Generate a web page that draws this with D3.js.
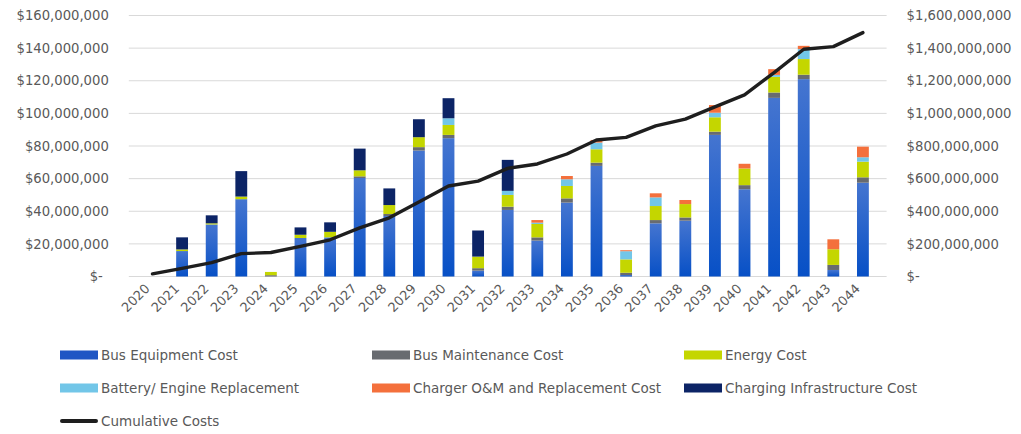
<!DOCTYPE html>
<html>
<head>
<meta charset="utf-8">
<script src="https://cdn.jsdelivr.net/npm/d3@7"></script>
<style>
  html, body { margin: 0; padding: 0; background: #fff; }
  svg { display: block; }
  text { font-family: "DejaVu Sans", sans-serif; fill: #595959; }
</style>
</head>
<body>
<svg id="chart" width="1021" height="434"></svg>
<script>
// Annual fleet costs by category, in millions of dollars
const years = ["2020","2021","2022","2023","2024","2025","2026","2027","2028","2029","2030","2031",
               "2032","2033","2034","2035","2036","2037","2038","2039","2040","2041","2042","2043","2044"];
const busEquipment   = [0, 15.6, 31.9, 47.4, 0, 23.6, 24.0, 60.4, 37.1, 77.2, 84.8, 3.6,
                        40.8, 22.0, 45.3, 67.8, 0.9, 32.6, 34.2, 86.8, 53.5, 109.5, 121.0, 4.0, 57.5];
const busMaintenance = [0, 0, 0, 0, 0.8, 0, 0, 1.0, 1.2, 2.1, 2.0, 1.5,
                        2.0, 2.0, 2.6, 2.0, 1.4, 2.0, 2.0, 2.0, 2.5, 3.3, 2.7, 3.1, 3.3];
const energy         = [0, 1.0, 0.7, 1.6, 2.0, 2.0, 3.4, 3.7, 5.5, 6.1, 6.1, 7.1,
                        7.2, 8.2, 7.6, 8.2, 8.2, 8.6, 8.2, 8.8, 10.2, 9.6, 9.6, 9.6, 9.6];
const batteryEngine  = [0, 0, 0, 0, 0, 0, 0, 0, 0, 0, 4.1, 0,
                        2.5, 0.8, 4.1, 4.1, 5.0, 5.3, 0, 2.8, 0, 1.2, 6.1, 0, 2.7];
const chargerOM      = [0, 0, 0, 0, 0, 0, 0, 0, 0, 0, 0, 0,
                        0, 1.6, 2.0, 1.6, 0.6, 2.5, 2.5, 4.7, 2.9, 3.5, 2.0, 6.1, 6.5];
const chargingInfra  = [0, 7.4, 4.9, 15.6, 0, 4.5, 5.8, 13.3, 10.2, 11.0, 12.3, 16.0,
                        19.0, 0, 0, 0, 0, 0, 0, 0, 0, 0, 0, 0, 0];
// Running total, in millions of dollars (right axis)
const cumulative     = [16, 50, 85, 140, 147, 185, 225, 298, 360, 457, 555, 585,
                        663, 690, 751, 837, 853, 923, 965, 1040, 1113, 1250, 1393, 1409, 1495];

const leftTicks  = [0, 20, 40, 60, 80, 100, 120, 140, 160];
const rightTicks = [0, 200, 400, 600, 800, 1000, 1200, 1400, 1600];

const seriesNames = ["Bus Equipment Cost", "Bus Maintenance Cost", "Energy Cost",
                     "Battery/ Engine Replacement", "Charger O&M and Replacement Cost",
                     "Charging Infrastructure Cost"];
const seriesValues = [busEquipment, busMaintenance, energy, batteryEngine, chargerOM, chargingInfra];
const seriesColors = ["url(#busGrad)", "#686b70", "#c4d600", "#72c6e8", "#f4703c", "#0c2466"];
const swatchColors = ["#1f56c4", "#686b70", "#c4d600", "#72c6e8", "#f4703c", "#0c2466"];

const svg = d3.select("#chart");
const margin = { left: 128.8, right: 1021 - 886.6, top: 15.5, bottom: 434 - 276.5 };
const W = 1021, H = 434;

const defs = svg.append("defs");
const grad = defs.append("linearGradient").attr("id", "busGrad")
  .attr("x1", 0).attr("y1", 0).attr("x2", 0).attr("y2", 1);
grad.append("stop").attr("offset", "0%").attr("stop-color", "#4575d0");
grad.append("stop").attr("offset", "100%").attr("stop-color", "#0750c6");

const x = d3.scaleBand().domain(years).range([margin.left, W - margin.right]).padding(0.6);
const yL = d3.scaleLinear().domain([0, 160]).range([H - margin.bottom, margin.top]);
const yR = d3.scaleLinear().domain([0, 1600]).range([H - margin.bottom, margin.top]);

const money = v => v === 0 ? "$-" : "$" + d3.format(",")(Math.round(v * 1e6));

// gridlines
svg.append("g").selectAll("line").data(leftTicks).join("line")
  .attr("x1", margin.left).attr("x2", W - margin.right)
  .attr("y1", d => yL(d)).attr("y2", d => yL(d))
  .attr("stroke", "#d9d9d9").attr("stroke-width", 1);

// left axis
const gL = svg.append("g").attr("transform", `translate(${margin.left - 20},0)`)
  .call(d3.axisLeft(yL).tickValues(leftTicks).tickFormat(money).tickSize(0).tickPadding(0));
gL.select(".domain").remove();
gL.selectAll("text").style("font-size", "13.2px").attr("fill", "#595959")
  .attr("dx", d => d === 0 ? -6 : 0);

// right axis
const gR = svg.append("g").attr("transform", `translate(${W - margin.right + 20},0)`)
  .call(d3.axisRight(yR).tickValues(rightTicks).tickFormat(money).tickSize(0).tickPadding(0));
gR.select(".domain").remove();
gR.selectAll("text").style("font-size", "13.2px").attr("fill", "#595959");

// x axis labels
const gX = svg.append("g").attr("transform", `translate(0,${H - margin.bottom})`)
  .call(d3.axisBottom(x).tickSize(0).tickPadding(0));
gX.select(".domain").remove();
gX.selectAll("text")
  .style("font-size", "13px").attr("fill", "#595959")
  .attr("text-anchor", "end")
  .attr("dy", 0).attr("y", 0)
  .attr("transform", "translate(-2,13) rotate(-45)");

// stacked bars
const table = years.map((yr, i) => {
  const row = { year: yr };
  seriesNames.forEach((n, k) => row[n] = seriesValues[k][i]);
  return row;
});
const stacked = d3.stack().keys(seriesNames)(table);

svg.append("g").selectAll("g").data(stacked).join("g")
  .attr("fill", (d, i) => seriesColors[i])
  .selectAll("rect").data(d => d).join("rect")
  .attr("x", d => x(d.data.year))
  .attr("width", x.bandwidth())
  .attr("y", d => yL(d[1]))
  .attr("height", d => Math.max(0, yL(d[0]) - yL(d[1])));

// cumulative line on right axis
const line = d3.line()
  .x((d, i) => x(years[i]) + x.bandwidth() / 2)
  .y(d => yR(d))
  .curve(d3.curveLinear);
svg.append("path").datum(cumulative)
  .attr("d", line)
  .attr("fill", "none")
  .attr("stroke", "#1e1e1e")
  .attr("stroke-width", 3.4)
  .attr("stroke-linejoin", "round")
  .attr("stroke-linecap", "round");

// legend
const colX = [60, 372, 684];
const rowY = [355, 388, 421];
const lg = svg.append("g").style("font-size", "13.5px");
seriesNames.forEach((n, i) => {
  const cx = colX[i % 3], cy = rowY[Math.floor(i / 3)];
  lg.append("rect").attr("x", cx).attr("y", cy - 4.5).attr("width", 38).attr("height", 9)
    .attr("fill", swatchColors[i]);
  lg.append("text").attr("x", cx + 41).attr("y", cy).attr("dy", "0.35em").text(n);
});
lg.append("line").attr("x1", 62).attr("x2", 96).attr("y1", rowY[2]).attr("y2", rowY[2])
  .attr("stroke", "#1e1e1e").attr("stroke-width", 4).attr("stroke-linecap", "round");
lg.append("text").attr("x", 101).attr("y", rowY[2]).attr("dy", "0.35em").text("Cumulative Costs");
</script>
</body>
</html>
